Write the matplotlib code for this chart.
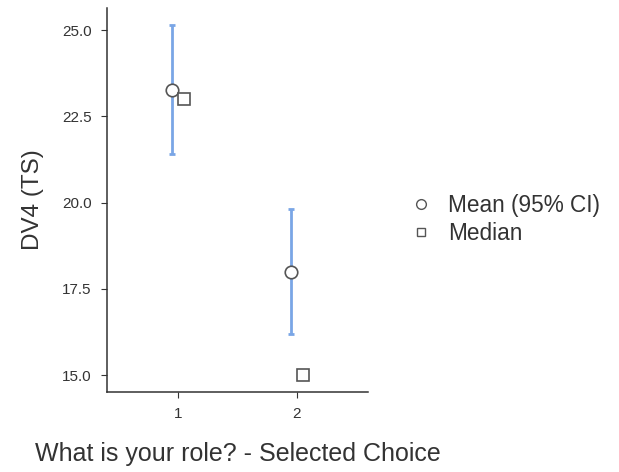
import numpy as np
import matplotlib.pyplot as plt
from matplotlib.lines import Line2D

plt.rcParams['font.family'] = ['Liberation Sans', 'DejaVu Sans']

groups = [1, 2]
means = [23.26, 18.0]
ci_low = [21.41, 16.19]
ci_high = [25.16, 19.81]
medians = [23.0, 15.0]

fig = plt.figure(figsize=(6.19, 4.72), dpi=100)
ax = fig.add_axes([0.173, 0.1695, 0.4215, 0.8135])

x = np.array(groups, dtype=float)
m = np.array(means)
err = [m - np.array(ci_low), np.array(ci_high) - m]
ax.errorbar(x - 0.05, m, yerr=err, fmt='none', ecolor='#7aa6e6', elinewidth=2,
            capsize=2, capthick=2, zorder=2)
ax.plot(x - 0.05, m, 'o', ms=9, mfc='white', mec='#555555', mew=1.2, zorder=3)
ax.plot(x + 0.05, medians, 's', ms=8, mfc='white', mec='#555555', mew=1.2, zorder=3)

ax.set_xlim(0.4, 2.6)
ax.set_ylim(14.51, 25.64)
ax.set_xticks(groups)
ax.set_xticklabels(['1', '2'])
ax.set_yticks([15.0, 17.5, 20.0, 22.5, 25.0])
ax.set_yticklabels(['15.0', '17.5', '20.0', '22.5', '25.0'])
for s in ['top', 'right']:
    ax.spines[s].set_visible(False)
for s in ['left', 'bottom']:
    ax.spines[s].set_color('#333333')
    ax.spines[s].set_linewidth(1.1)
ax.tick_params(colors='#333333', labelsize=11, length=4, pad=7)
ax.set_ylabel('DV4 (TS)', fontsize=17.5, color='#333333', labelpad=13)
ax.set_xlabel('What is your role? - Selected Choice', fontsize=18, color='#333333', labelpad=15)

handles = [
    Line2D([], [], ls='none', marker='o', ms=7, mfc='white', mec='#555555', mew=1),
    Line2D([], [], ls='none', marker='s', ms=6, mfc='white', mec='#555555', mew=1),
]
fig.legend(handles, ['Mean (95% CI)', 'Median'], loc='center left',
           bbox_to_anchor=(0.647, 0.535), frameon=False, fontsize=16.3,
           labelcolor='#333333', handlelength=0.8, handletextpad=0.8,
           labelspacing=0.2, borderpad=0)

fig.savefig('out.png', dpi=100)
